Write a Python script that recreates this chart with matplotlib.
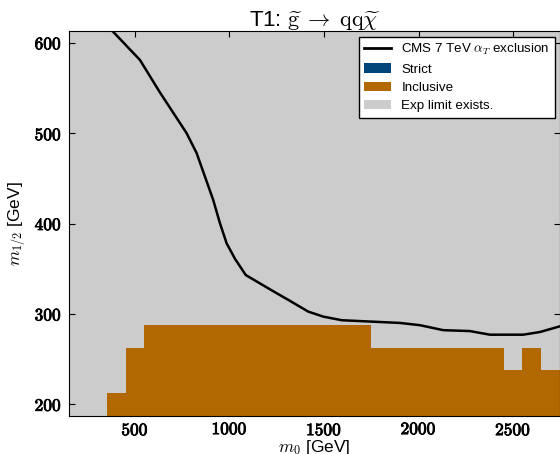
import matplotlib
matplotlib.use("Agg")
import matplotlib.pyplot as plt
import matplotlib.patheffects as pe
from matplotlib.patches import Patch
from matplotlib.lines import Line2D
from matplotlib.ticker import FuncFormatter

# grid of scan points (cell centres)
m0 = [200, 300, 400, 500, 600, 700, 800, 900, 1000, 1100, 1200, 1300, 1400,
      1500, 1600, 1700, 1800, 1900, 2000, 2100, 2200, 2300, 2400, 2500,
      2600, 2700]
m0_step = 100
m12_lo, m12_hi, m12_step = 200, 600, 25

# highest excluded m1/2 cell per m0 column (None = nothing excluded)
inclusive_max = [None, None, 200, 250, 275, 275, 275, 275, 275, 275, 275,
                 275, 275, 275, 275, 275, 250, 250, 250, 250, 250, 250, 250,
                 225, 250, 225]

# CMS 7 TeV alpha_T exclusion curve
cms_m0 = [385, 526, 632, 773, 826, 914, 950, 985, 1029, 1086, 1232, 1307,
          1417, 1496, 1594, 1902, 2008, 2131, 2272, 2378, 2554, 2643, 2760]
cms_m12 = [612, 581, 545, 500, 478, 426, 400, 378, 361, 343, 325, 316,
           302.5, 297, 293, 290, 287.5, 282, 281, 277, 277, 280, 287]

c_gray = "#cccccc"
c_orange = "#b26800"
c_blue = "#00467a"

plt.rcParams["font.family"] = ["Liberation Sans", "DejaVu Sans"]
plt.rcParams["mathtext.fontset"] = "cm"

fig = plt.figure(figsize=(5.6, 4.54), dpi=100)
ax = fig.add_axes([68.8 / 560, 1 - 415.6 / 454, (560.3 - 68.8) / 560,
                   (415.6 - 31.4) / 454])

y0 = m12_lo - m12_step / 2
y1 = m12_hi + m12_step / 2

# experimental limit exists everywhere on the grid
ax.bar(m0, [y1 - y0] * len(m0), bottom=y0, width=m0_step, color=c_gray,
       linewidth=0, zorder=1)

heights = [0 if v is None else v + m12_step / 2 - y0 for v in inclusive_max]
ax.bar(m0, heights, bottom=y0, width=m0_step, color=c_orange, linewidth=0,
       zorder=2)

ax.plot(cms_m0, cms_m12, color="black", lw=1.8, zorder=3)

ax.set_xlim(m0[0] - m0_step / 2, m0[-1] + m0_step / 2)
ax.set_ylim(y0, y1)
ax.set_xticks([500, 1000, 1500, 2000, 2500])
ax.set_yticks([200, 300, 400, 500, 600])
fmt = FuncFormatter(lambda v, p: r"$\mathbf{%d}$" % v)
ax.xaxis.set_major_formatter(fmt)
ax.yaxis.set_major_formatter(fmt)
ax.tick_params(direction="in", top=True, right=True, length=4, labelsize=12.5)
ax.tick_params(axis="x", pad=4)
ax.tick_params(axis="y", pad=5)
bold = [pe.withStroke(linewidth=0.6, foreground="black")]
for t in ax.get_xticklabels() + ax.get_yticklabels():
    t.set_path_effects(bold)

ax.set_xlabel(r"$m_0$ [GeV]", fontsize=12.5, labelpad=0)
ax.set_ylabel(r"$m_{1/2}$ [GeV]", fontsize=12.5, labelpad=5)
ax.set_title(r"T1: $\widetilde{\rm g}\;\rightarrow\;{\rm qq}\widetilde{\chi}$",
             fontsize=16, pad=4)

handles = [
    Line2D([], [], color="black", lw=2),
    Patch(facecolor=c_blue, edgecolor="none"),
    Patch(facecolor=c_orange, edgecolor="none"),
    Patch(facecolor=c_gray, edgecolor="none"),
]
labels = [r"CMS 7 TeV $\alpha_T$ exclusion", "Strict", "Inclusive",
          "Exp limit exists."]
leg = ax.legend(handles, labels, loc="upper right", fontsize=9.6,
                fancybox=False, framealpha=1, edgecolor="black",
                borderaxespad=0.4, handlelength=2.0, labelspacing=0.45)
leg.get_frame().set_linewidth(1.0)

fig.savefig("out.png", dpi=100)
